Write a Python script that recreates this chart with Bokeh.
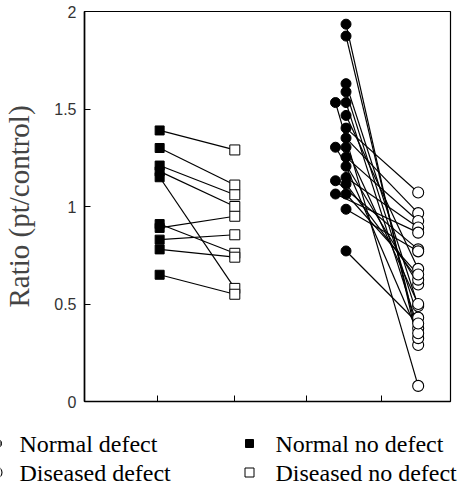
from bokeh.plotting import figure
from bokeh.layouts import column
from bokeh.models import Range1d, FixedTicker, ColumnDataSource
from bokeh.core.properties import value
from bokeh.embed import file_html
from bokeh.resources import INLINE

# ---- data (ratio pt/control) ----
normal_no_defect   = [1.39, 1.30, 1.21, 1.18, 1.15, 0.91, 0.89, 0.83, 0.78, 0.65]
diseased_no_defect = [1.29, 1.11, 1.06, 1.00, 0.58, 0.76, 0.95, 0.855, 0.74, 0.55]

normal_defect   = [1.935, 1.874, 1.630, 1.588, 1.533, 1.533, 1.467, 1.402, 1.351, 1.304,
                   1.304, 1.253, 1.206, 1.149, 1.132, 1.115, 1.064, 1.064, 0.986, 0.772]
diseased_defect = [0.29, 0.325, 0.49, 0.43, 0.08, 0.376, 0.68, 1.072, 0.966, 0.60,
                   0.50, 0.926, 0.35, 0.892, 0.78, 0.625, 0.866, 0.651, 0.77, 0.40]
# filled circles drawn beside their neighbour (overlap)
shifted = [False, False, False, False, True, False, False, False, False, True,
           False, False, False, False, True, False, True, False, False, False]

y_ticks = [0, 0.5, 1, 1.5, 2]
y_tick_labels = {0: "0", 0.5: "0.5", 1: "1", 1.5: "1.5", 2: "2"}
legend_labels = ["Normal defect", "Diseased defect", "Normal no defect", "Diseased no defect"]

# ---- group positions on the x axis ----
X_NND, X_DND = 1.0, 2.0
X_ND, X_ND_SHIFT, X_DD = 3.48, 3.34, 4.44
x_axis_ticks = [0.97, 1.99, 2.96, 3.95]

sq_src = ColumnDataSource(dict(
    x0=[X_NND] * len(normal_no_defect), y0=normal_no_defect,
    x1=[X_DND] * len(diseased_no_defect), y1=diseased_no_defect))
ci_src = ColumnDataSource(dict(
    x0=[X_ND_SHIFT if s else X_ND for s in shifted], y0=normal_defect,
    x1=[X_DD] * len(diseased_defect), y1=diseased_defect))

p = figure(width=458, height=431, output_backend="svg", toolbar_location=None,
           x_range=Range1d(0, 375 / 77), y_range=Range1d(0, 2),
           min_border_left=75, min_border_right=8, min_border_top=11,
           min_border_bottom=30)
p.frame_align = False
p.xgrid.visible = False
p.ygrid.visible = False
p.outline_line_color = "black"
p.outline_line_width = 1.2
p.background_fill_color = "white"
p.border_fill_color = "white"

# connecting lines
p.segment("x0", "y0", "x1", "y1", source=sq_src, line_color="black", line_width=1.2)
p.segment("x0", "y0", "x1", "y1", source=ci_src, line_color="black", line_width=1.2)

SQ_F = dict(marker="square", size=9, fill_color="black", line_color="black")
SQ_O = dict(marker="square", size=10, fill_color="white", line_color="black", line_width=1)
CI_F = dict(marker="circle", size=10, fill_color="black", line_color="black")
CI_O = dict(marker="circle", size=11, fill_color="white", line_color="black", line_width=1.1)

p.scatter("x0", "y0", source=sq_src, **SQ_F)
p.scatter("x1", "y1", source=sq_src, **SQ_O)
p.scatter("x0", "y0", source=ci_src, **CI_F)
p.scatter("x1", "y1", source=ci_src, **CI_O)

# axes
p.yaxis.ticker = FixedTicker(ticks=y_ticks)
p.yaxis.major_label_overrides = y_tick_labels
p.yaxis.major_tick_in = 6
p.yaxis.major_tick_out = 0
p.yaxis.minor_tick_line_color = None
p.yaxis.major_label_standoff = 8
p.yaxis.major_label_text_font = "Liberation Sans"
p.yaxis.major_label_text_font_size = "16px"
p.yaxis.major_label_text_color = "#333333"
p.yaxis.axis_line_width = 1.6
p.yaxis.axis_label = "Ratio (pt/control)"
p.yaxis.axis_label_text_font = "Liberation Serif"
p.yaxis.axis_label_text_font_style = "normal"
p.yaxis.axis_label_text_font_size = "29px"
p.yaxis.axis_label_standoff = 16

p.xaxis.ticker = FixedTicker(ticks=x_axis_ticks)
p.xaxis.major_label_overrides = {t: "" for t in x_axis_ticks}
p.xaxis.major_tick_in = 6
p.xaxis.major_tick_out = 0
p.xaxis.minor_tick_line_color = None
p.xaxis.axis_line_width = 1.6

# ---- legend strip (pixel-like coordinates) ----
lf = figure(width=458, height=55, output_backend="svg", toolbar_location=None,
            x_range=Range1d(0, 458), y_range=Range1d(0, 55),
            x_axis_type=None, y_axis_type=None,
            min_border_left=0, min_border_right=0, min_border_top=0, min_border_bottom=0)
lf.frame_align = False
lf.outline_line_color = None
lf.xgrid.visible = False
lf.ygrid.visible = False
lf.border_fill_color = "white"

COL_MARK = [-4, 249]
COL_TEXT = [19, 275]
ROW_Y = [43, 14]
styles = [CI_F, CI_O, SQ_F, SQ_O]
for i, lab in enumerate(legend_labels):
    c, r = divmod(i, 2)
    st = dict(styles[i])
    if st["marker"] == "square":
        st["size"] = st["size"] - 1
    lf.scatter([COL_MARK[c]], [ROW_Y[r]], **st)
    lf.text([COL_TEXT[c]], [ROW_Y[r]], text=[lab], text_font=value("Liberation Serif"),
            text_font_size="24px", text_baseline="middle", text_align="left",
            text_color="black")

layout = column(p, lf, spacing=0)
open("out.html", "w").write(file_html(layout, INLINE))
